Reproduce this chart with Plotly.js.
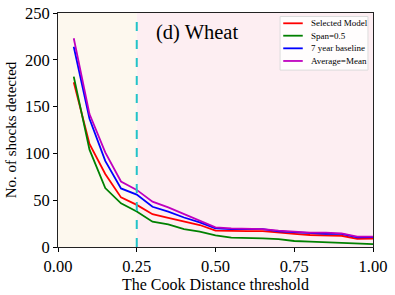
<!DOCTYPE html>
<html>
<head>
<meta charset="utf-8">
<script src="https://cdn.plot.ly/plotly-3.0.1.min.js"></script>
<style>html,body{margin:0;padding:0;background:#fff;}#chart{width:395px;height:295px;}</style>
</head>
<body>
<div id="chart"></div>
<script>
const thresholds = [0.05,0.10,0.15,0.20,0.25,0.30,0.35,0.40,0.45,0.50,0.55,0.60,0.65,0.70,0.75,0.80,0.85,0.90,0.95,1.00];
const selectedModel = [176,110,78,53,45,35,31,27,23.5,17.5,17,17,17,15.3,14,12.8,12.8,12,8.7,8.9];
const span05       = [182,104,63,46.6,38,27,24.2,19,16.4,12.5,10,9.2,9.2,8.5,6.4,5.7,5,5,4,3];
const baseline7    = [214,137,92,62.6,56,43,37.7,31.5,26.3,20,19.2,19,19,16.8,15.7,14.6,14,14,10.3,10.7];
const averageMean  = [223,142,101,70,61,48.4,42.4,35,28,21,20,19.5,19,17.5,16.4,15.3,15.3,14.6,11,11];
const seriesNames = ['Selected Model','Span=0.5','7 year baseline','Average=Mean'];
const seriesColors = ['#ff0000','#008000','#0000ff','#bf00bf'];
const seriesData = [selectedModel, span05, baseline7, averageMean];
const xTicks = [0,0.25,0.5,0.75,1.0];
const xTickText = ['0.00','0.25','0.50','0.75','1.00'];
const yTicks = [0,50,100,150,200,250];
const cutoff = 0.25;
const panelLabel = '(d) Wheat';

const serif = 'Liberation Serif, Times New Roman, serif';
const traces = seriesData.map((d,i)=>({
  x: thresholds, y: d, type:'scatter', mode:'lines', name: seriesNames[i],
  line:{color: seriesColors[i], width:1.8}, showlegend:false
}));

// compact legend (matplotlib-style) built from the series names/colours
const legRowY = [0.956, 0.903, 0.849, 0.795];
const legendShapes = [{type:'rect', xref:'paper', yref:'paper', x0:0.705, x1:0.984, y0:0.756, y1:0.985,
  fillcolor:'rgba(255,255,255,0.85)', line:{color:'#dcdcdc', width:1}, layer:'above'}];
const legendAnn = [];
seriesNames.forEach((n,i)=>{
  legendShapes.push({type:'line', xref:'paper', yref:'paper', x0:0.715, x1:0.777, y0:legRowY[i], y1:legRowY[i],
    line:{color:seriesColors[i], width:1.8}, layer:'above'});
  legendAnn.push({text:n, xref:'paper', yref:'paper', x:0.798, y:legRowY[i], xanchor:'left', yanchor:'middle',
    showarrow:false, font:{family:serif, size:9, color:'#000'}});
});

const layout = {
  width:395, height:295,
  margin:{l:58, r:22, t:13, b:48},
  paper_bgcolor:'#ffffff', plot_bgcolor:'#ffffff',
  font:{family:serif, color:'#000'},
  showlegend:false,
  xaxis:{range:[0,1], tickvals:xTicks, ticktext:xTickText, ticks:'outside', ticklen:4, tickcolor:'#000',
    showgrid:false, zeroline:false, showline:true, linecolor:'#222', linewidth:1, mirror:true,
    tickfont:{family:serif, size:16.5}, title:{text:'The Cook Distance threshold', font:{family:serif, size:16}, standoff:2}},
  yaxis:{range:[0,250], tickvals:yTicks, ticks:'outside', ticklen:4, tickcolor:'#000',
    showgrid:false, zeroline:false, showline:true, linecolor:'#222', linewidth:1, mirror:true,
    tickfont:{family:serif, size:16.5}, title:{text:'No. of shocks detected', font:{family:serif, size:15}, standoff:4}},
  shapes:[
    {type:'rect', xref:'x', yref:'paper', x0:0, x1:cutoff, y0:0, y1:1, fillcolor:'#fdf8ee', line:{width:0}, layer:'below'},
    {type:'rect', xref:'x', yref:'paper', x0:cutoff, x1:1, y0:0, y1:1, fillcolor:'#fdeef2', line:{width:0}, layer:'below'},
    {type:'line', xref:'x', yref:'paper', x0:cutoff, x1:cutoff, y0:0, y1:1, line:{color:'#22c4c8', width:2, dash:'dash'}}
  ].concat(legendShapes),
  annotations:[{text:panelLabel, xref:'paper', yref:'paper', x:0.44, y:0.915, showarrow:false,
    font:{family:serif, size:20.5, color:'#000'}, xanchor:'center', yanchor:'middle'}].concat(legendAnn)
};
Plotly.newPlot('chart', traces, layout, {staticPlot:true, displayModeBar:false});
</script>
</body>
</html>
